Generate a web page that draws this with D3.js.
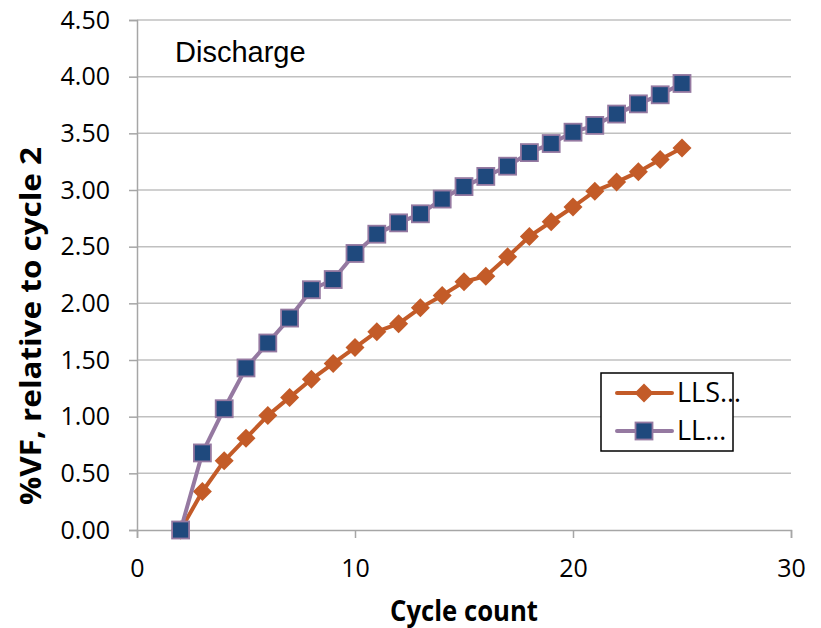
<!DOCTYPE html>
<html>
<head>
<meta charset="utf-8">
<script src="https://cdn.jsdelivr.net/npm/d3@7"></script>
<style>
  html, body { margin: 0; padding: 0; background: #fff; }
  svg { display: block; }
</style>
</head>
<body>
<svg id="chart" width="821" height="628"></svg>
<script>
// ---- data ----
const cycles = [2,3,4,5,6,7,8,9,10,11,12,13,14,15,16,17,18,19,20,21,22,23,24,25];
const seriesNames = ["LLS...", "LL..."];
const llsValues = [0.00,0.34,0.61,0.81,1.01,1.17,1.33,1.47,1.61,1.75,1.82,1.96,2.07,2.19,2.24,2.41,2.59,2.72,2.85,2.99,3.07,3.16,3.27,3.37];
const llValues  = [0.00,0.68,1.07,1.43,1.65,1.87,2.12,2.21,2.44,2.61,2.71,2.79,2.92,3.03,3.12,3.21,3.33,3.41,3.51,3.57,3.67,3.76,3.84,3.94];
const xTicks = [0,10,20,30];
const yTicks = [0,0.5,1,1.5,2,2.5,3,3.5,4,4.5];
const annotation = "Discharge";
const xTitle = "Cycle count";
const yTitle = "%VF, relative to cycle 2";

// ---- layout ----
const svg = d3.select("#chart");
const plotL = 137, plotR = 791, plotT = 20, plotB = 530;
const x = d3.scaleLinear().domain([0,30]).range([plotL,plotR]);
const y = d3.scaleLinear().domain([0,4.5]).range([plotB,plotT]);

const tickFont = "'Open Sans', 'Noto Sans', sans-serif";
const orange = "#c35b28";
const purple = "#9579a1";
const navy = "#1f497d";

// gridlines
svg.append("g").selectAll("line").data(yTicks.filter(d => d > 0)).join("line")
  .attr("x1", plotL).attr("x2", plotR)
  .attr("y1", d => y(d)).attr("y2", d => y(d))
  .attr("stroke", "#c0c0c0").attr("stroke-width", 1.5);

// axes
const yAxis = svg.append("g").attr("transform", `translate(${plotL},0)`)
  .call(d3.axisLeft(y).tickValues(yTicks).tickFormat(d3.format(".2f")).tickSize(8).tickPadding(19));
const xAxis = svg.append("g").attr("transform", `translate(0,${plotB})`)
  .call(d3.axisBottom(x).tickValues(xTicks).tickFormat(d3.format("d")).tickSize(8).tickPadding(21));
[yAxis, xAxis].forEach(g => {
  g.select(".domain").attr("stroke", "#a6a6a6").attr("stroke-width", 1.5);
  g.selectAll(".tick line").attr("stroke", "#a6a6a6").attr("stroke-width", 1.5);
  g.selectAll(".tick text").attr("fill", "#000").style("font-family", tickFont).style("font-size", "25px");
});

// series
const line = d3.line().x((d,i) => x(cycles[i])).y(d => y(d));

svg.append("path").datum(llsValues).attr("d", line)
  .attr("fill", "none").attr("stroke", orange).attr("stroke-width", 4).attr("stroke-linejoin", "round");
const diamond = d3.symbol().type(d3.symbolDiamond2).size(230);
svg.append("g").selectAll("path").data(llsValues).join("path")
  .attr("d", diamond)
  .attr("transform", (d,i) => `translate(${x(cycles[i])},${y(d)})`)
  .attr("fill", orange);

svg.append("path").datum(llValues).attr("d", line)
  .attr("fill", "none").attr("stroke", purple).attr("stroke-width", 4).attr("stroke-linejoin", "round");
svg.append("g").selectAll("rect").data(llValues).join("rect")
  .attr("x", (d,i) => x(cycles[i]) - 8.5).attr("y", d => y(d) - 8.5)
  .attr("width", 17).attr("height", 17)
  .attr("fill", navy).attr("stroke", purple).attr("stroke-width", 1.8);

// annotation
svg.append("text").attr("x", 175).attr("y", 62).text(annotation)
  .style("font-family", "'Liberation Sans', Arial, sans-serif").style("font-size", "29px").attr("fill", "#000");

// axis titles
svg.append("text").attr("x", (plotL+plotR)/2).attr("y", 621).attr("text-anchor", "middle")
  .attr("textLength", 148).attr("lengthAdjust", "spacingAndGlyphs")
  .style("font-family", tickFont).style("font-weight", "bold").style("font-size", "28px").text(xTitle);
svg.append("text").attr("transform", "translate(41,326) rotate(-90)").attr("text-anchor", "middle")
  .attr("textLength", 358).attr("lengthAdjust", "spacingAndGlyphs")
  .style("font-family", tickFont).style("font-weight", "bold").style("font-size", "28px").text(yTitle);

// legend
const lg = svg.append("g");
lg.append("rect").attr("x", 601).attr("y", 373).attr("width", 132).attr("height", 78)
  .attr("fill", "#fff").attr("stroke", "#000").attr("stroke-width", 1.5);
const rowsY = [393, 431];
const legendSeries = [
  {name: seriesNames[0], color: orange, marker: "diamond"},
  {name: seriesNames[1], color: purple, marker: "square"}
];
legendSeries.forEach((s, i) => {
  const cy = rowsY[i];
  lg.append("line").attr("x1", 617).attr("x2", 672).attr("y1", cy).attr("y2", cy)
    .attr("stroke", s.color).attr("stroke-width", 4).attr("stroke-linecap", "round");
  if (s.marker === "diamond") {
    lg.append("path").attr("d", diamond).attr("transform", `translate(644,${cy})`).attr("fill", orange);
  } else {
    lg.append("rect").attr("x", 644 - 8.5).attr("y", cy - 8.5).attr("width", 17).attr("height", 17)
      .attr("fill", navy).attr("stroke", purple).attr("stroke-width", 1.8);
  }
  lg.append("text").attr("x", 677).attr("y", cy + 9).text(s.name.replace("...", "…"))
    .style("font-family", tickFont).style("font-size", "27px").attr("fill", "#000");
});
</script>
</body>
</html>
